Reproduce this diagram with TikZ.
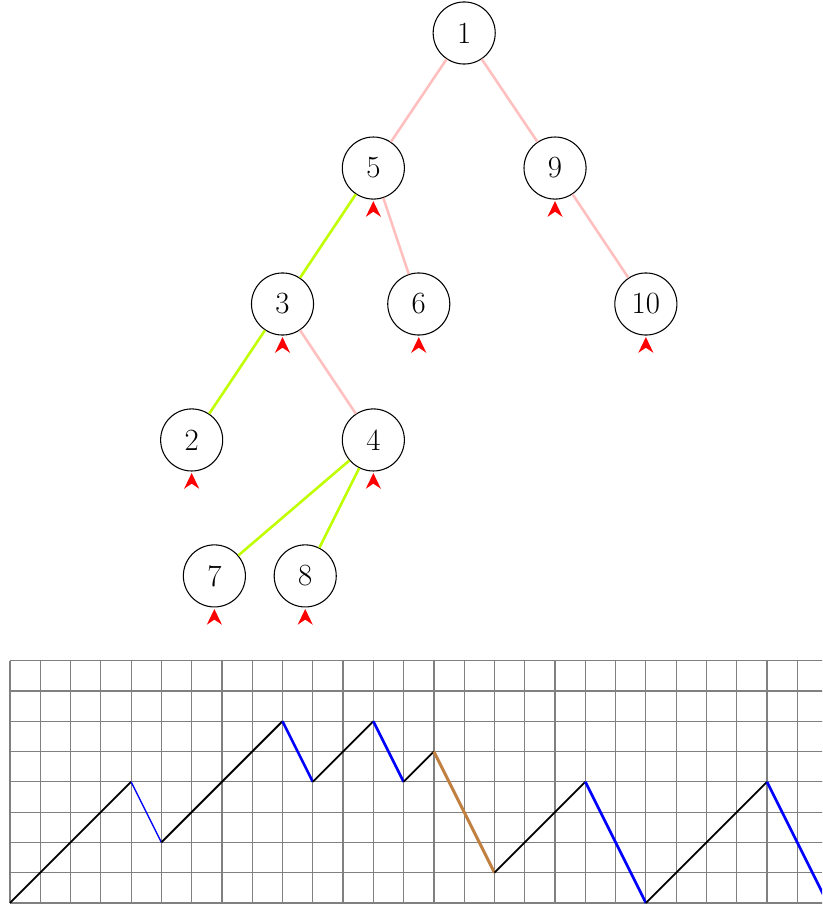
\documentclass[tikz,border=0pt]{standalone}
\definecolor{pinkc}{rgb}{1,0.75,0.75}
\definecolor{limec}{rgb}{0.75,1,0}
\definecolor{brownc}{rgb}{0.75,0.5,0.25}
\begin{document}
\begin{tikzpicture}[x=1cm,y=1cm,
  tn/.style={circle, draw, line width=1pt, minimum size=2.05cm, inner sep=0pt, font=\fontsize{29}{35}\selectfont},
  pe/.style={draw=pinkc, line width=2.4pt},
  le/.style={draw=limec, line width=2.4pt},
  upstep/.style={draw=black, line width=1.7pt},
  downthin/.style={draw=blue, line width=1.3pt},
  downthick/.style={draw=blue, line width=2.5pt},
  downbrown/.style={draw=brownc, line width=2.8pt},
  gridline/.style={draw=gray, line width=1.1pt}]
\useasboundingbox (-0.33,-0.2) rectangle (26.82,29.82);
% tree
\node[tn] (n1) at (15,28.73) {1};
\node[tn] (n5) at (12,24.27) {5};
\node[tn] (n9) at (18,24.27) {9};
\node[tn] (n3) at (9,19.78) {3};
\node[tn] (n6) at (13.5,19.78) {6};
\node[tn] (n10) at (21,19.78) {10};
\node[tn] (n2) at (6,15.29) {2};
\node[tn] (n4) at (12,15.29) {4};
\node[tn] (n7) at (6.75,10.8) {7};
\node[tn] (n8) at (9.75,10.8) {8};
\draw[pe] (n1) -- (n5);
\draw[pe] (n1) -- (n9);
\draw[le] (n5) -- (n3);
\draw[pe] (n5) -- (n6);
\draw[pe] (n9) -- (n10);
\draw[le] (n3) -- (n2);
\draw[pe] (n3) -- (n4);
\draw[le] (n4) -- (n7);
\draw[le] (n4) -- (n8);
\foreach \n in {n5,n9,n3,n6,n10,n2,n4,n7,n8}
  \fill[red] ([yshift=-0.05cm]\n.south) -- ++(-0.25,-0.52) -- ++(0.25,0.17) -- ++(0.25,-0.17) -- cycle;
% lattice path
\begin{scope}
\clip (-0.33,-0.2) rectangle (26.82,29.82);
\draw[gridline] (0,0) grid (28,8);
\coordinate (p0) at (0,0);
\coordinate (p1) at (4,4);
\coordinate (p2) at (5,2);
\coordinate (p3) at (9,6);
\coordinate (p4) at (10,4);
\coordinate (p5) at (12,6);
\coordinate (p6) at (13,4);
\coordinate (p7) at (14,5);
\coordinate (p8) at (16,1);
\coordinate (p9) at (19,4);
\coordinate (p10) at (21,0);
\coordinate (p11) at (25,4);
\coordinate (p12) at (27,0);
\draw[upstep] (p0) -- (p1);
\draw[downthin] (p1) -- (p2);
\draw[upstep] (p2) -- (p3);
\draw[downthick] (p3) -- (p4);
\draw[upstep] (p4) -- (p5);
\draw[downthick] (p5) -- (p6);
\draw[upstep] (p6) -- (p7);
\draw[downbrown] (p7) -- (p8);
\draw[upstep] (p8) -- (p9);
\draw[downthick] (p9) -- (p10);
\draw[upstep] (p10) -- (p11);
\draw[downthick] (p11) -- (p12);
\end{scope}
\end{tikzpicture}
\end{document}
